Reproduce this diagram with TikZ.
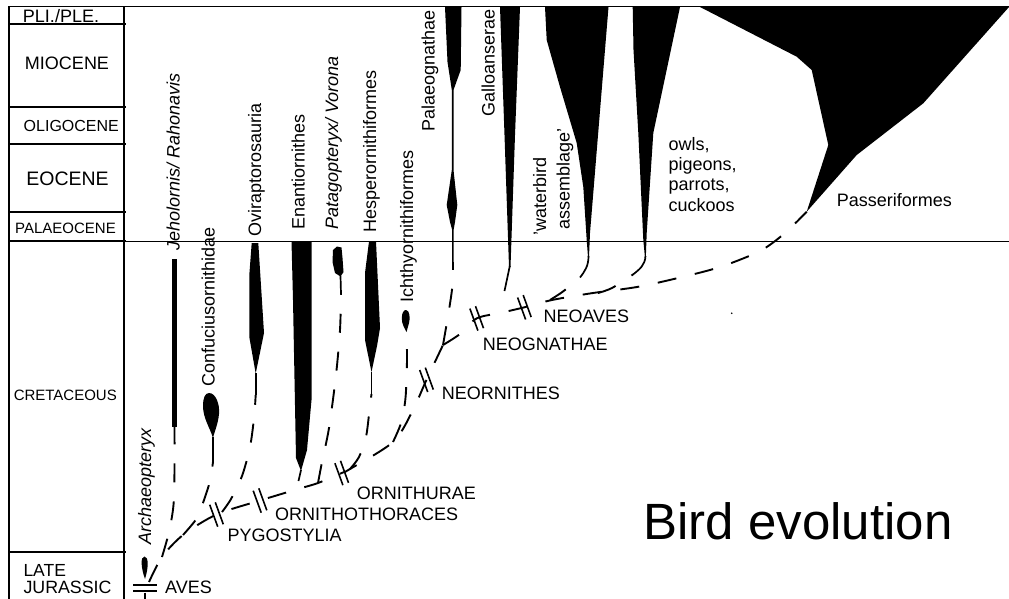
\documentclass[tikz,border=0pt]{standalone}
\usepackage{fontspec}
\setmainfont{Liberation Sans}
\tikzset{
  lbl/.style={inner sep=0pt, font=\fontsize{18}{20}\selectfont},
  rlbl/.style={lbl, rotate=90, anchor=base west},
  ilbl/.style={rlbl, font=\fontsize{18}{20}\selectfont\itshape},
  frame/.style={line width=1.4pt},
  branch/.style={line width=1.9pt, dash pattern=on 19pt off 19pt},
  stem/.style={line width=1.7pt},
  hatchline/.style={line width=1.6pt},
}
\newcommand{\hatchmk}[1]{\draw[hatchline] (#1) ++(-6.8,-9.8) -- ++(8,22); \draw[hatchline] (#1) ++(-1.2,-12.2) -- ++(8,22);}
\begin{document}
\begin{tikzpicture}[x=1pt,y=-1pt]
\useasboundingbox (0,0) rectangle (1009,599);
% ---------- time column ----------
\draw[frame] (9,6.5) -- (9,599);
\draw[frame] (124,6.5) -- (124,599);
\draw[line width=1pt] (9,6.5) -- (1009,6.5);
\foreach \yy in {24,107,144,212,241,552} \draw[frame] (9,\yy) -- (126,\yy);
\draw[line width=1pt] (124,241) -- (1009,241);
\node[lbl, anchor=base] (pli) at (61,22.5) {PLI./PLE.};
\node[lbl, anchor=base] (mio) at (67,70) {MIOCENE};
\node[lbl, anchor=base, font=\fontsize{16}{18}\selectfont] (oli) at (71.3,131.7) {OLIGOCENE};
\node[lbl, anchor=base, font=\fontsize{19.5}{21}\selectfont] (eoc) at (67.5,185) {EOCENE};
\node[lbl, anchor=base, font=\fontsize{15}{17}\selectfont] (pal) at (65.5,233) {PALAEOCENE};
\node[lbl, anchor=base, font=\fontsize{15}{17}\selectfont] (cre) at (65.3,400) {CRETACEOUS};
\node[lbl, anchor=base west, font=\fontsize{17.5}{19}\selectfont] (late) at (23.3,576.7) {LATE};
\node[lbl, anchor=base west, font=\fontsize{17.8}{19}\selectfont] (jur) at (23.3,593.3) {JURASSIC};
% ---------- lineages (filled) ----------
\fill (144.5,556.5) .. controls (148.8,556.5) and (148.5,568) .. (145,579) .. controls (141,568) and (140.2,556.5) .. (144.5,556.5);
\fill (172,259) rectangle (177,426.5);
\fill (209,393) .. controls (216,393) and (220,405) .. (219,414) .. controls (218,424) and (215,430) .. (213,438) .. controls (210,428) and (203,418) .. (203,406) .. controls (203,398) and (205,393) .. (209,393);
\fill (251.7,243) -- (258.3,243) -- (264,333) -- (255.7,373.5) -- (249.3,337) -- (249.3,275) -- cycle;
\fill (291.5,241) -- (311.5,241) -- (311.5,400) -- (307,450) -- (301,471) -- (296,458) -- (293,300) -- cycle;
\fill (333,250) -- (337,246.5) -- (341.5,247.5) -- (342.5,258) -- (343.5,272) -- (340.5,276.5) -- (335,273) -- (332.5,262) -- cycle;
\fill (369,241.5) -- (376,241.5) -- (380,328) -- (377,346) -- (371.5,372) -- (365,340) -- (365,273) -- cycle;
\fill (406,310) .. controls (409.5,310) and (410.5,318) .. (409,323) .. controls (408,327) and (407,330) .. (406.5,332) .. controls (405,329) and (401.5,324) .. (401.8,318) .. controls (402,313) and (403.5,310) .. (406,310);
\fill (445,7) -- (461.5,7) -- (460.7,70) -- (453.5,90) -- (453.5,170) -- (457.3,205) -- (455,222) -- (453.6,230) -- (453.6,262) -- (452.2,262) -- (452.2,230) -- (450,222) -- (446.7,205) -- (451.8,170) -- (451.8,90) -- (447.5,62) -- cycle;
\fill (500,7) -- (520,7) -- (515,135) -- (510.5,267) -- (509,267) -- (504.5,135) -- cycle;
\fill (545,7) -- (608.5,7) -- (590,233) -- (589,257) -- (588,257) -- (586.7,240) -- (583.3,187) -- (576.7,143) -- (560,87) -- (546.7,40) -- cycle;
\fill (632.7,7) -- (680,7) -- (653.3,133) -- (646.7,233) -- (645.8,258) -- (645,258) -- (643.3,240) -- (638.3,133) -- (633.5,50) -- cycle;
\fill (700,7) -- (1009,7) -- (923.3,103.3) -- (856.7,155) -- (806.7,211.7) -- (828.3,145) -- (811.7,70) -- (796.7,56.7) -- cycle;
% ---------- solid stems ----------
\draw[stem] (213,437) -- (213,462);
\draw[stem] (255.7,373) -- (255.7,395);
\draw[stem] (340.5,276) -- (341,294);
\draw[stem] (371.5,372) -- (371.5,394);
\draw[stem] (301,470) -- (298.5,481);
\draw[stem] (509.8,266) -- (504.5,291);
\draw[stem] (588.5,256) .. controls (588.5,266) and (585,271) .. (580,277.5);
\draw[stem] (645.5,256) .. controls (645,265) and (640,269) .. (633,274.5);
% ---------- tree coordinates ----------
\coordinate (root) at (145,599);
\coordinate (aves) at (149,582);
\coordinate (jj) at (162,557);
\coordinate (cj) at (183,535);
\coordinate (pyg) at (216.5,514.5);
\coordinate (ovj) at (222,512);
\coordinate (orth) at (260,500.5);
\coordinate (enj) at (298,489);
\coordinate (patj) at (318,483);
\coordinate (ornu) at (341.7,473);
\coordinate (hesj) at (350,469);
\coordinate (ichj) at (393,442);
\coordinate (neor) at (426.5,379.8);
\coordinate (palj) at (443,345);
\coordinate (neog) at (476.7,318.4);
\coordinate (galj) at (500,313);
\coordinate (neoa) at (524.4,307.3);
\coordinate (watj) at (550,300);
\coordinate (owlj) at (598,293);
\coordinate (jehb) at (174.5,426.5);
\coordinate (confb) at (213,462);
\coordinate (ovib) at (255.7,395);
\coordinate (patb) at (341,294);
\coordinate (hesb) at (371.5,394);
\coordinate (ichb) at (406.5,332);
\coordinate (palb) at (453,262);
\coordinate (watb) at (580,277.5);
\coordinate (owlb) at (633,274.5);
\coordinate (passb) at (806.7,211.7);
% ---------- dashed tree ----------
\draw[branch] plot[smooth, tension=0.5] coordinates {(aves) (jj) (cj) (pyg) (orth) (enj) (patj) (ornu) (hesj) (ichj) (412,412) (neor) (palj)};
\draw[branch] plot[smooth, tension=0.5] coordinates {(palj) (460,334) (neog) (galj) (neoa) (552,300) (593,293) (637,287) (678,278) (720,267) (760,251) (785,233) (passb)};
\draw[branch] plot[smooth, tension=0.5] coordinates {(jj) (169,532) (173.5,505) (174.5,470) (jehb)};
\draw[branch] plot[smooth, tension=0.5] coordinates {(cj) (197,518) (204,500) (210,481) (confb)};
\draw[branch] plot[smooth, tension=0.5] coordinates {(ovj) (231,499) (242,476) (250,447) (254,418) (ovib)};
\draw[branch] plot[smooth, tension=0.5] coordinates {(patj) (322,462) (329,428) (336,375) (340,330) (patb)};
\draw[branch] plot[smooth, tension=0.5] coordinates {(hesj) (359,457) (366,437) (369.5,410) (hesb)};
\draw[branch] plot[smooth, tension=0.5] coordinates {(ichj) (401,423) (405.5,398) (407,360) (ichb)};
\draw[branch] plot[smooth, tension=0.5] coordinates {(palj) (449,310) (452.5,285) (palb)};
\draw[branch] plot[smooth, tension=0.5] coordinates {(watj) (563,291.5) (watb)};
\draw[branch] plot[smooth, tension=0.5] coordinates {(owlj) (612,288) (owlb)};
\fill (731.7,313.3) circle (0.9);
% ---------- markers ----------
\draw[hatchline] (133.3,585) -- (156.7,585);
\draw[hatchline] (133.3,590.7) -- (156.7,590.7);
\draw[stem] (145,592.5) -- (root);
\hatchmk{pyg}
\hatchmk{orth}
\hatchmk{ornu}
\hatchmk{neor}
\hatchmk{neog}
\hatchmk{neoa}
% ---------- clade labels ----------
\node[lbl, anchor=base west] (lAves) at (165,593) {AVES};
\node[lbl, anchor=base west] (lPyg) at (227.3,541) {PYGOSTYLIA};
\node[lbl, anchor=base west] (lOrth) at (275,520) {ORNITHOTHORACES};
\node[lbl, anchor=base west] (lOrnu) at (356.7,499.3) {ORNITHURAE};
\node[lbl, anchor=base west] (lNeor) at (441.7,399.3) {NEORNITHES};
\node[lbl, anchor=base west] (lNeog) at (482.7,350) {NEOGNATHAE};
\node[lbl, anchor=base west] (lNeoa) at (543.3,322.7) {NEOAVES};
% ---------- taxon labels ----------
\node[ilbl] (tArch) at (151,545) {Archaeopteryx};
\node[ilbl] (tJeh) at (179.5,250.5) {Jeholornis/ Rahonavis};
\node[rlbl] (tConf) at (214.5,387) {Confuciusornithidae};
\node[rlbl] (tOvi) at (261,237) {Oviraptorosauria};
\node[rlbl] (tEna) at (304.6,230) {Enantiornithes};
\node[ilbl] (tPat) at (338,230) {Patagopteryx/ Vorona};
\node[rlbl] (tHes) at (376,233) {Hesperornithiformes};
\node[rlbl] (tIch) at (413,303) {Ichthyornithiformes};
\node[rlbl] (tPal) at (434.5,131.5) {Palaeognathae};
\node[rlbl] (tGal) at (494.6,116.7) {Galloanserae};
\node[rlbl, anchor=base] (tWat1) at (546,196) {'waterbird};
\node[rlbl, anchor=base] (tWat2) at (569.6,179) {assemblage'};
\node[lbl, anchor=north west, align=left, font=\fontsize{18}{20.3}\selectfont] (tOwl) at (668.3,137.1) {owls,\\pigeons,\\parrots,\\cuckoos};
\node[lbl, anchor=base west] (tPass) at (836.7,206) {Passeriformes};
\node[lbl, anchor=base west, font=\fontsize{51}{55}\selectfont] (title) at (643.3,539.3) {Bird evolution};
\end{tikzpicture}
\end{document}
